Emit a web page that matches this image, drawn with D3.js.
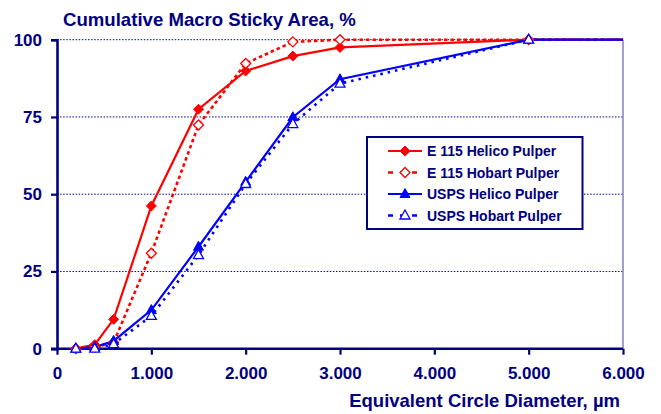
<!DOCTYPE html>
<html><head><meta charset="utf-8">
<script src="https://cdn.jsdelivr.net/npm/d3@7"></script>
<style>
html,body{margin:0;padding:0;background:#fff;}
svg{display:block;font-family:"Liberation Sans",Arial,sans-serif;font-weight:bold;}
</style></head>
<body>
<svg id="chart" width="661" height="414"></svg>
<script>
const diameters = [200, 400, 600, 1000, 1500, 2000, 2500, 3000, 5000, 6000];
const e115Helico = [0, 1.3, 9.5, 46.2, 77.5, 89.9, 94.7, 97.5, 100, 100];
const e115Hobart = [0, 0.5, 2, 30.9, 72.4, 92.3, 99.3, 100, 100, 100];
const uspsHelico = [0, 0.5, 2.5, 12.5, 33, 54, 74.9, 87.2, 100, 100];
const uspsHobart = [0, 0, 1.5, 10.6, 30.3, 53.3, 72.7, 85.8, 100, 100];
const seriesNames = ["E 115 Helico Pulper", "E 115 Hobart Pulper", "USPS Helico Pulper", "USPS Hobart Pulper"];
const xTicks = [0, 1000, 2000, 3000, 4000, 5000, 6000];
const yTicks = [0, 25, 50, 75, 100];
const titleText = "Cumulative Macro Sticky Area, %";
const xTitleText = "Equivalent Circle Diameter, µm";

const navy = "#000080";
const svg = d3.select("#chart");
const x = d3.scaleLinear().domain([0, 6000]).range([57, 623]);
const y = d3.scaleLinear().domain([0, 100]).range([348.7, 39.7]);

const series = [
  {name: seriesNames[0], values: e115Helico, color: "#ff0000", dash: null, marker: "diamond", filled: true},
  {name: seriesNames[1], values: e115Hobart, color: "#ff0000", dash: "3.5,3", marker: "diamond", filled: false},
  {name: seriesNames[2], values: uspsHelico, color: "#0000ff", dash: null, marker: "triangle", filled: true},
  {name: seriesNames[3], values: uspsHobart, color: "#0000ff", dash: "2.5,5", marker: "triangle", filled: false}
];

// gridlines
svg.append("g").selectAll("line").data(yTicks.filter(d => d > 0)).join("line")
  .attr("x1", x(0)).attr("x2", x(6000))
  .attr("y1", d => y(d)).attr("y2", d => y(d))
  .attr("stroke", navy).attr("stroke-width", 1).attr("stroke-dasharray", "1.5,1.6");

// right border
svg.append("line").attr("x1", x(6000)).attr("x2", x(6000)).attr("y1", y(100)).attr("y2", y(0))
  .attr("stroke", "#8080c0").attr("stroke-width", 1.5);

// axes
const yAxis = d3.axisLeft(y).tickValues(yTicks).tickSize(6).tickPadding(9).tickFormat(d3.format("d"));
const gy = svg.append("g").attr("transform", `translate(${x(0)},0)`).call(yAxis);
const xAxis = d3.axisBottom(x).tickValues(xTicks).tickSize(6).tickPadding(12)
  .tickFormat(d => d === 0 ? "0" : d3.format(".3f")(d / 1000));
const gx = svg.append("g").attr("transform", `translate(0,${y(0)})`).call(xAxis);
[gx, gy].forEach(g => {
  g.select(".domain").attr("stroke", navy).attr("stroke-width", 2.6);
  g.selectAll(".tick line").attr("stroke", navy).attr("stroke-width", 2.2);
  g.selectAll(".tick text").attr("fill", navy).attr("font-family", "Liberation Sans, Arial, sans-serif")
    .attr("font-weight", "bold").attr("font-size", 17);
});
gx.select(".domain").attr("d", `M${x(0) - 6},0H${x(6000)}`);

// lines
const line = d3.line().x((d, i) => x(diameters[i])).y(d => y(d));
series.forEach(s => {
  svg.append("path").datum(s.values).attr("d", line).attr("fill", "none")
    .attr("stroke", s.color).attr("stroke-width", s.dash ? 2.6 : 2.2)
    .attr("stroke-dasharray", s.dash);
});

function markerPath(type) {
  if (type === "diamond") return "M0,-5L5,0L0,5L-5,0Z";
  return "M0,-5.5L5,3.5L-5,3.5Z";
}
series.forEach(s => {
  svg.append("g").selectAll("path").data(s.values.filter((v, i) => diameters[i] < 6000)).join("path")
    .attr("d", markerPath(s.marker))
    .attr("transform", (d, i) => `translate(${x(diameters[i])},${y(d)})`)
    .attr("fill", s.filled ? s.color : "#fff")
    .attr("stroke", s.color).attr("stroke-width", s.filled ? 1 : 1.3);
});

// title
svg.append("text").attr("x", 63).attr("y", 26).attr("fill", navy).attr("font-size", 18.6).text(titleText);
svg.append("text").attr("x", 620).attr("y", 407).attr("text-anchor", "end").attr("fill", navy)
  .attr("font-size", 18.5).text(xTitleText);

// legend
const lg = svg.append("g");
lg.append("rect").attr("x", 367).attr("y", 137).attr("width", 215.5).attr("height", 92)
  .attr("fill", "#fff").attr("stroke", navy).attr("stroke-width", 2);
const rowY = [151, 172.5, 194, 215.5];
series.forEach((s, i) => {
  const g = lg.append("g").attr("transform", `translate(0,${rowY[i]})`);
  g.append("line").attr("x1", 388).attr("x2", 422).attr("y1", 0).attr("y2", 0)
    .attr("stroke", s.color).attr("stroke-width", s.dash ? 2.6 : 2.2)
    .attr("stroke-dasharray", s.dash ? "5,7" : null);
  g.append("path").attr("d", markerPath(s.marker)).attr("transform", "translate(405,0)")
    .attr("fill", s.filled ? s.color : "#fff").attr("stroke", s.color).attr("stroke-width", s.filled ? 1 : 1.3);
  g.append("text").attr("x", 427).attr("y", 5).attr("fill", navy).attr("font-size", 14).text(s.name);
});
</script>
</body></html>
